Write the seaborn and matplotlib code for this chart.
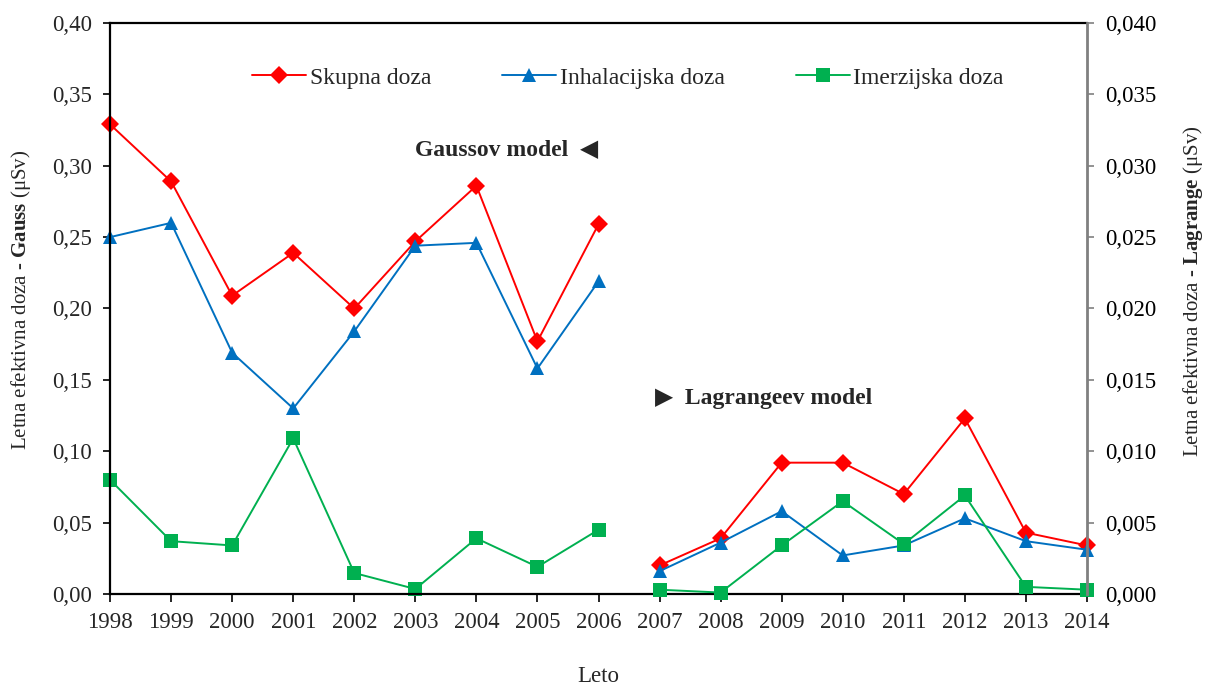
import matplotlib
matplotlib.use("Agg")
import matplotlib.pyplot as plt
import seaborn as sns
import pandas as pd
from matplotlib.lines import Line2D

# Annual effective dose, Gaussian model (left axis, µSv)
leta_gauss = [1998, 1999, 2000, 2001, 2002, 2003, 2004, 2005, 2006]
skupna_gauss = [0.329, 0.289, 0.209, 0.239, 0.200, 0.247, 0.286, 0.177, 0.259]
inhal_gauss = [0.250, 0.260, 0.169, 0.130, 0.184, 0.244, 0.246, 0.158, 0.219]
imerz_gauss = [0.080, 0.037, 0.034, 0.109, 0.0147, 0.0035, 0.039, 0.019, 0.045]

# Annual effective dose, Lagrangian model (right axis, µSv)
leta_lagr = [2007, 2008, 2009, 2010, 2011, 2012, 2013, 2014]
skupna_lagr = [0.0020, 0.0039, 0.0092, 0.0092, 0.0070, 0.0123, 0.0043, 0.0034]
inhal_lagr = [0.0016, 0.0036, 0.0058, 0.0027, 0.0034, 0.0053, 0.0037, 0.0031]
imerz_lagr = [0.0003, 0.0001, 0.0034, 0.0065, 0.0035, 0.0069, 0.0005, 0.0003]

serije = ["Skupna doza", "Inhalacijska doza", "Imerzijska doza"]
barve = {"Skupna doza": "#FF0000", "Inhalacijska doza": "#0070C0", "Imerzijska doza": "#00B050"}
oznake = {"Skupna doza": "D", "Inhalacijska doza": "^", "Imerzijska doza": "s"}
velikosti = {"Skupna doza": 9, "Inhalacijska doza": 10.5, "Imerzijska doza": 9.5}

leta_vse = list(range(1998, 2015))
levi_tiki = [0.0, 0.05, 0.10, 0.15, 0.20, 0.25, 0.30, 0.35, 0.40]
levi_napisi = ["0,00", "0,05", "0,10", "0,15", "0,20", "0,25", "0,30", "0,35", "0,40"]
desni_tiki = [0.0, 0.005, 0.010, 0.015, 0.020, 0.025, 0.030, 0.035, 0.040]
desni_napisi = ["0,000", "0,005", "0,010", "0,015", "0,020", "0,025", "0,030", "0,035", "0,040"]


def dolga_tabela(leta, skupna, inhal, imerz):
    vrstice = []
    for ime, vred in zip(serije, [skupna, inhal, imerz]):
        for l, v in zip(leta, vred):
            vrstice.append({"Leto": l, "doza": v, "vrsta": ime})
    return pd.DataFrame(vrstice)


df_g = dolga_tabela(leta_gauss, skupna_gauss, inhal_gauss, imerz_gauss)
df_l = dolga_tabela(leta_lagr, skupna_lagr, inhal_lagr, imerz_lagr)

sns.set_theme(style="white")
plt.rcParams["font.family"] = ["Liberation Serif", "DejaVu Sans"]
plt.rcParams["mathtext.fontset"] = "custom"
plt.rcParams["mathtext.rm"] = "Liberation Serif"
plt.rcParams["mathtext.bf"] = "Liberation Serif:bold"

fig = plt.figure(figsize=(12.08, 6.89), dpi=100)
ax = fig.add_axes([0.0911, 0.1379, 0.8087, 0.8287])
ax2 = ax.twinx()


def narisi(os_, df):
    for ime in serije:
        d = df[df["vrsta"] == ime]
        sns.lineplot(data=d, x="Leto", y="doza", ax=os_, color=barve[ime],
                     marker=oznake[ime], markersize=velikosti[ime],
                     markeredgewidth=0, linewidth=1.4, legend=False,
                     errorbar=None, sort=False)
    for ln in os_.lines:
        ln.set_clip_on(False)


narisi(ax, df_g)
narisi(ax2, df_l)

ax.set_xlim(1998, 2014)
ax.set_ylim(0, 0.40)
ax2.set_ylim(0, 0.040)

ax.set_xticks(leta_vse)
ax.set_xticklabels([str(l) for l in leta_vse], fontsize=16.5)
ax.set_yticks(levi_tiki)
ax.set_yticklabels(levi_napisi, fontsize=16.5)
ax2.set_yticks(desni_tiki)
ax2.set_yticklabels(desni_napisi, fontsize=16.5)

ax.tick_params(axis="x", direction="out", length=6, width=1.2, color="black",
               bottom=True, pad=7)
ax.tick_params(axis="y", direction="out", length=5, width=1.2, color="black",
               left=True, pad=8)
ax2.tick_params(axis="y", direction="out", length=5, width=1.2, color="#808080",
                right=True, pad=8, labelcolor="black")

for s in ["left", "bottom", "top"]:
    ax.spines[s].set_color("black")
    ax.spines[s].set_linewidth(1.6)
    ax2.spines[s].set_visible(False)
ax.spines["right"].set_visible(False)
ax2.spines["right"].set_color("#808080")
ax2.spines["right"].set_linewidth(2)

ax.set_xlabel("Leto", fontsize=16.5, labelpad=24)
ax.set_ylabel(r"Letna efektivna doza - $\mathbf{Gauss}$ (μSv)", fontsize=15, labelpad=14)
ax2.set_ylabel(r"Letna efektivna doza - $\mathbf{Lagrange}$ (μSv)", fontsize=15, labelpad=18)
ax.yaxis.label.set_y(0.515)
ax2.yaxis.label.set_y(0.53)
ax.grid(False)
ax2.grid(False)

ax.text(0.312, 0.778, "Gaussov model  ◀", transform=ax.transAxes, fontsize=17,
        fontweight="bold", va="center", ha="left")
ax.text(0.558, 0.343, "▶  Lagrangeev model", transform=ax.transAxes, fontsize=17,
        fontweight="bold", va="center", ha="left")

rocaji = [Line2D([0], [0], color=barve[i], marker=oznake[i], markersize=velikosti[i],
                 markeredgewidth=0, linewidth=1.4) for i in serije]
ax.legend(rocaji, serije, loc="center", bbox_to_anchor=(0.53, 0.904), ncol=3,
          frameon=False, fontsize=17, handlelength=2.3, columnspacing=3.0,
          handletextpad=0.15)

fig.savefig("out.png", dpi=100)
